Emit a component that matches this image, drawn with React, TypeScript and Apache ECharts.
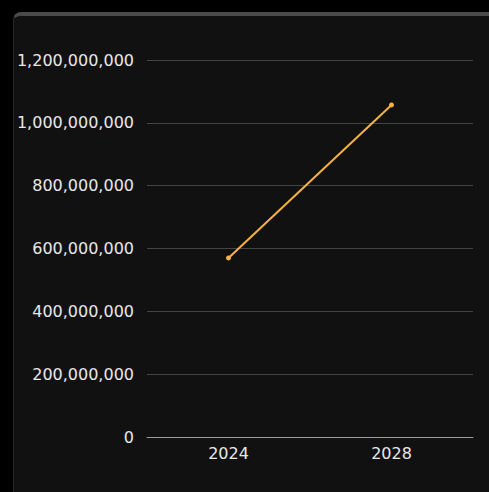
import React, { useEffect, useRef } from "react";
import * as echarts from "echarts";

const years = ["2024", "2028"];
const values = [570000000, 1057000000];
const yTicks = { min: 0, max: 1200000000, interval: 200000000 };

export default function App() {
  const ref = useRef<HTMLDivElement>(null);
  useEffect(() => {
    document.body.style.margin = "0";
    document.body.style.background = "#000";
    const chart = echarts.init(ref.current!, null, { renderer: "svg" });
    chart.setOption({
      animation: false,
      backgroundColor: "transparent",
      grid: { left: 147, right: 16, top: 60, bottom: 55 },
      xAxis: {
        type: "category",
        data: years,
        boundaryGap: true,
        axisLine: { lineStyle: { color: "#9a9a9a", width: 1 } },
        axisTick: { show: false },
        axisLabel: { color: "#e8e8e8", fontFamily: "DejaVu Sans", fontSize: 16, margin: 8 },
      },
      yAxis: {
        type: "value",
        min: yTicks.min,
        max: yTicks.max,
        interval: yTicks.interval,
        axisLine: { show: false },
        axisTick: { show: false },
        splitLine: { lineStyle: { color: "#444", width: 1 } },
        axisLabel: {
          color: "#e8e8e8",
          fontFamily: "DejaVu Sans",
          fontSize: 16,
          margin: 13,
          formatter: (v: number) => v.toLocaleString("en-US"),
        },
      },
      series: [
        {
          type: "line",
          data: values,
          symbol: "circle",
          symbolSize: 5,
          lineStyle: { color: "#f8b243", width: 2 },
          itemStyle: { color: "#f8b243" },
        },
      ],
    });
    return () => chart.dispose();
  }, []);
  return (
    <div style={{ position: "fixed", left: 0, top: 0, width: 489, height: 492, background: "#000", overflow: "hidden" }}>
      <div
        style={{
          position: "absolute",
          left: 13,
          top: 12,
          width: 489,
          height: 492,
          background: "#111111",
          borderTop: "4px solid #4a4a4a",
          borderLeft: "1px solid #262626",
          borderTopLeftRadius: 8,
          boxSizing: "border-box",
        }}
      />
      <div ref={ref} style={{ position: "absolute", left: 0, top: 0, width: 489, height: 492 }} />
    </div>
  );
}
